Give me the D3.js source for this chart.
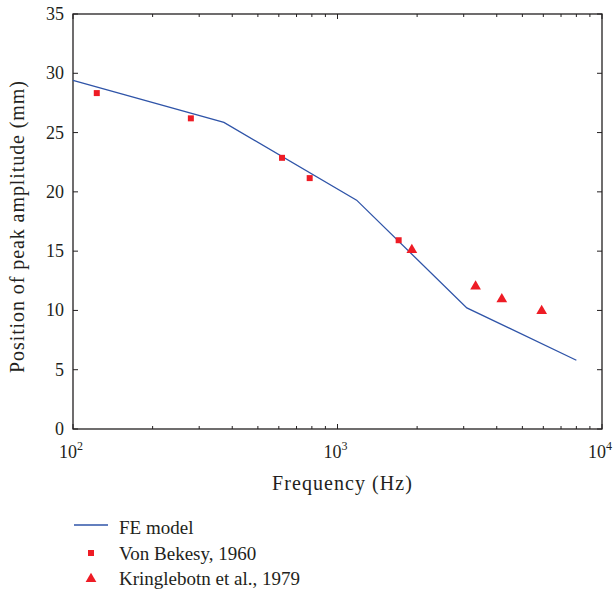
<!DOCTYPE html>
<html>
<head>
<meta charset="utf-8">
<script src="https://cdn.jsdelivr.net/npm/d3@7"></script>
<style>
  body { margin: 0; background: #fff; }
  text { font-family: "Liberation Serif", "DejaVu Serif", serif; fill: #231f20; }
</style>
</head>
<body>
<script>
// FE model line (freq Hz, position mm)
const modelFreq = [100, 372, 1181, 3083, 8000];
const modelPos = [29.4, 25.86, 19.3, 10.21, 5.8];

// Von Bekesy, 1960
const bekesyFreq = [123, 279, 617, 785, 1703];
const bekesyPos = [28.33, 26.2, 22.87, 21.16, 15.92];

// Kringlebotn et al., 1979
const kringFreq = [1910, 3327, 4180, 5914];
const kringPos = [15.1, 12.03, 10.95, 9.96];

const yTicks = [0, 5, 10, 15, 20, 25, 30, 35];
const xTicks = [100, 1000, 10000];

const width = 615, height = 595;
const margin = { left: 73, right: 13, top: 14, bottom: 166 };

const svg = d3.select("body").append("svg")
    .attr("width", width)
    .attr("height", height);

const x = d3.scaleLog().domain([100, 10000]).range([margin.left, width - margin.right]);
const y = d3.scaleLinear().domain([0, 35]).range([height - margin.bottom, margin.top]);

const x0 = x.range()[0], x1 = x.range()[1];
const y0 = y.range()[0], y1 = y.range()[1];

// ticks, all pointing inward
const minor = [];
[100, 1000].forEach(d => { for (let k = 2; k <= 9; k++) minor.push(d * k); });

const tg = svg.append("g").attr("stroke", "#231f20").attr("stroke-width", 1);
xTicks.forEach(d => {
    tg.append("line").attr("x1", x(d)).attr("x2", x(d)).attr("y1", y0).attr("y2", y0 - 5);
    tg.append("line").attr("x1", x(d)).attr("x2", x(d)).attr("y1", y1).attr("y2", y1 + 5);
});
minor.forEach(d => {
    tg.append("line").attr("x1", x(d)).attr("x2", x(d)).attr("y1", y0).attr("y2", y0 - 3);
    tg.append("line").attr("x1", x(d)).attr("x2", x(d)).attr("y1", y1).attr("y2", y1 + 3);
});
yTicks.forEach(d => {
    tg.append("line").attr("x1", x0).attr("x2", x0 + 5).attr("y1", y(d)).attr("y2", y(d));
    tg.append("line").attr("x1", x1).attr("x2", x1 - 5).attr("y1", y(d)).attr("y2", y(d));
});

// frame
svg.append("rect")
    .attr("x", x0).attr("y", y1)
    .attr("width", x1 - x0).attr("height", y0 - y1)
    .attr("fill", "none")
    .attr("stroke", "#231f20")
    .attr("stroke-width", 1.3);

// y tick labels
svg.append("g").selectAll("text")
    .data(yTicks)
    .enter().append("text")
    .attr("x", x0 - 9)
    .attr("y", d => y(d) + 6)
    .attr("text-anchor", "end")
    .attr("font-size", 18)
    .text(d => d);

// x tick labels 10^n
const xl = svg.append("g").selectAll("text")
    .data(xTicks)
    .enter().append("text")
    .attr("x", d => x(d) - 2)
    .attr("y", y0 + 29)
    .attr("text-anchor", "middle")
    .attr("font-size", 18);
xl.append("tspan").text("10");
xl.append("tspan")
    .attr("dy", -8)
    .attr("font-size", 12)
    .text(d => Math.round(Math.log10(d)));

// axis titles
svg.append("text")
    .attr("x", 342)
    .attr("y", 490)
    .attr("text-anchor", "middle")
    .attr("font-size", 20)
    .attr("textLength", 140)
    .text("Frequency (Hz)");

svg.append("text")
    .attr("transform", "translate(24, 227) rotate(-90)")
    .attr("text-anchor", "middle")
    .attr("font-size", 20)
    .attr("textLength", 292)
    .text("Position of peak amplitude (mm)");

// FE model line
const lineData = modelFreq.map((f, i) => [f, modelPos[i]]);
svg.append("path")
    .datum(lineData)
    .attr("fill", "none")
    .attr("stroke", "#2f54a8")
    .attr("stroke-width", 1.3)
    .attr("d", d3.line().x(d => x(d[0])).y(d => y(d[1])));

// Von Bekesy squares
const sq = d3.symbol().type(d3.symbolSquare).size(36);
svg.append("g").selectAll("path")
    .data(bekesyFreq.map((f, i) => [f, bekesyPos[i]]))
    .enter().append("path")
    .attr("d", sq)
    .attr("transform", d => `translate(${x(d[0])},${y(d[1])})`)
    .attr("fill", "#ee1c25");

// Kringlebotn triangles
const tri = d3.symbol().type(d3.symbolTriangle).size(50);
svg.append("g").selectAll("path")
    .data(kringFreq.map((f, i) => [f, kringPos[i]]))
    .enter().append("path")
    .attr("d", tri)
    .attr("transform", d => `translate(${x(d[0])},${y(d[1])})`)
    .attr("fill", "#ee1c25");

// legend
const legend = svg.append("g");
legend.append("line")
    .attr("x1", 74).attr("x2", 108)
    .attr("y1", 525).attr("y2", 525)
    .attr("stroke", "#2f54a8")
    .attr("stroke-width", 1.3);
legend.append("path")
    .attr("d", sq)
    .attr("transform", "translate(91,553)")
    .attr("fill", "#ee1c25");
legend.append("path")
    .attr("d", tri)
    .attr("transform", "translate(91,579)")
    .attr("fill", "#ee1c25");

const legendLabels = ["FE model", "Von Bekesy, 1960", "Kringlebotn et al., 1979"];
legend.selectAll("text")
    .data(legendLabels)
    .enter().append("text")
    .attr("x", 119)
    .attr("y", (d, i) => 534 + i * 25.5)
    .attr("font-size", 19)
    .text(d => d);
</script>
</body>
</html>
